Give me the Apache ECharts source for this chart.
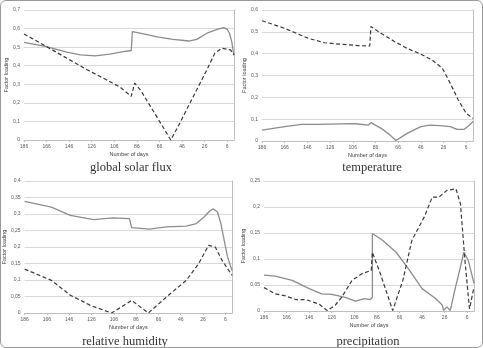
<!DOCTYPE html>
<html>
<head>
<meta charset="utf-8">
<script src="https://cdn.jsdelivr.net/npm/echarts@6/dist/echarts.min.js"></script>
<style>
  html, body { margin: 0; padding: 0; background: #fff; }
  #main { width: 483px; height: 348px; }
  #frame { position: absolute; left: 0; top: 0; width: 481px; height: 346px;
           border: 1px solid #9a9a9a; border-radius: 6px; pointer-events: none; }
</style>
</head>
<body>
<div id="main"></div>
<div id="frame"></div>
<script>
// day ticks shown on every x axis (days before, counting down)
const dayTicks = [186, 166, 146, 126, 106, 86, 66, 46, 26, 6]
const captions = ["global solar flux", "temperature", "relative humidity", "precipitation"]

// [day, factor loading]
const solarSolid = [[186,0.526],[166,0.503],[148,0.473],[136,0.458],[123,0.453],[110,0.462],[98,0.476],[91,0.482],[90,0.584],[80,0.571],[68,0.555],[54,0.542],[40,0.533],[33,0.542],[24,0.575],[15,0.596],[9,0.605],[6,0.596],[4,0.575],[2,0.53],[1,0.49],[0,0.455]]
const solarDashed = [[186,0.571],[166,0.503],[148,0.44],[130,0.378],[113,0.324],[101,0.285],[91,0.235],[88,0.306],[83,0.27],[74,0.181],[65,0.091],[56,0],[48,0.091],[36,0.235],[24,0.378],[17,0.467],[11,0.494],[3,0.485],[0,0.458]]

const tempSolid = [[186,0.05],[166,0.066],[151,0.076],[137,0.076],[116,0.078],[104,0.079],[92,0.073],[90,0.084],[81,0.058],[73,0.027],[68,0.002],[58,0.035],[46,0.066],[38,0.073],[29,0.07],[20,0.066],[14,0.053],[8,0.053],[4,0.069],[0,0.089]]
const tempDashed = [[186,0.551],[166,0.516],[145,0.47],[131,0.45],[116,0.443],[101,0.437],[91,0.435],[90,0.524],[81,0.493],[69,0.455],[58,0.424],[46,0.398],[36,0.371],[27,0.333],[20,0.264],[13,0.188],[6,0.127],[0,0.104]]

const humSolid = [[186,0.338],[162,0.321],[145,0.296],[124,0.283],[107,0.288],[92,0.286],[90,0.259],[74,0.254],[59,0.261],[41,0.263],[32,0.271],[25,0.291],[20,0.309],[17,0.316],[13,0.306],[10,0.271],[7,0.22],[4,0.17],[0,0.129]]
const humDashed = [[186,0.133],[162,0.099],[145,0.054],[127,0.023],[108,0],[90,0.038],[75,0],[59,0.048],[41,0.099],[30,0.149],[21,0.205],[15,0.2],[9,0.16],[0,0.114]]

const precSolid = [[186,0.069],[176,0.067],[161,0.059],[146,0.043],[135,0.033],[126,0.032],[114,0.026],[105,0.019],[97,0.024],[92,0.022],[90,0.026],[90,0.149],[81,0.136],[69,0.113],[58,0.081],[46,0.043],[34,0.024],[28,0.011],[27,0.001],[24,0.008],[21,0.001],[17,0.04],[12,0.085],[9,0.113],[5,0.097],[0,0.053]]
const precDashed = [[186,0.045],[176,0.033],[167,0.029],[158,0.022],[149,0.022],[137,0.013],[130,0.001],[123,0.011],[117,0.027],[108,0.059],[99,0.072],[91,0.078],[90,0.113],[83,0.072],[72,0.001],[63,0.059],[55,0.136],[44,0.181],[37,0.219],[31,0.219],[24,0.232],[16,0.235],[12,0.206],[8,0.097],[4,0.004],[0,0.046]]

const yMax = [0.7, 0.6, 0.4, 0.25]
const yStep = [0.1, 0.1, 0.05, 0.05]

const grids = [
  { left: 24, top: 10, width: 210, height: 130 },
  { left: 262, top: 10, width: 211, height: 131 },
  { left: 23, top: 181, width: 209, height: 132 },
  { left: 264, top: 181, width: 210, height: 130 },
]
const captionPos = [[131, 161], [372, 161], [125, 335], [368, 335]]
const panels = [[solarSolid, solarDashed], [tempSolid, tempDashed], [humSolid, humDashed], [precSolid, precDashed]]

const tickFont = { fontSize: 5, color: "#595959", fontFamily: "Arial, Liberation Sans" }

let myChart = echarts.init(document.getElementById("main"))

let xAxis = [], yAxis = [], series = [], title = []
grids.forEach((g, i) => {
  xAxis.push({
    gridIndex: i,
    type: "value",
    inverse: true,
    min: 0,
    max: 186,
    name: "Number of days",
    nameLocation: "middle",
    nameGap: 11,
    nameTextStyle: { fontSize: 5.5, color: "#404040", fontFamily: "Arial, Liberation Sans" },
    axisLine: { show: true, lineStyle: { color: "#bfbfbf", width: 1 } },
    axisTick: { show: true, length: 2, customValues: dayTicks, lineStyle: { color: "#bfbfbf" } },
    axisLabel: Object.assign({ customValues: dayTicks, margin: 4 }, tickFont),
    splitLine: { show: false },
  })
  yAxis.push({
    gridIndex: i,
    type: "value",
    min: 0,
    max: yMax[i],
    interval: yStep[i],
    name: "Factor loading",
    nameLocation: "middle",
    nameGap: 12,
    nameTextStyle: { fontSize: 5.5, color: "#404040", fontFamily: "Arial, Liberation Sans" },
    axisLine: { show: true, lineStyle: { color: "#bfbfbf", width: 1 } },
    axisTick: { show: false },
    axisLabel: Object.assign({
      margin: 4,
      formatter: (v) => (Math.round(v * 100) / 100).toString().replace(".", ","),
    }, tickFont),
    splitLine: { show: true, lineStyle: { color: "#d9d9d9", width: 1 } },
  })
  series.push({
    type: "line",
    xAxisIndex: i,
    yAxisIndex: i,
    data: panels[i][0],
    showSymbol: false,
    lineStyle: { color: "#8c8c8c", width: 1.3 },
    silent: true,
  })
  series.push({
    type: "line",
    xAxisIndex: i,
    yAxisIndex: i,
    data: panels[i][1],
    showSymbol: false,
    lineStyle: { color: "#3a3a3a", width: 1.2, type: [4, 2.5] },
    silent: true,
  })
  title.push({
    text: captions[i],
    left: captionPos[i][0],
    top: captionPos[i][1],
    textAlign: "center",
    padding: 0,
    textStyle: { fontSize: 12.5, fontWeight: "normal", color: "#333", fontFamily: "Liberation Serif, DejaVu Serif, serif" },
  })
})

myChart.setOption({
  animation: false,
  title: title,
  grid: grids,
  xAxis: xAxis,
  yAxis: yAxis,
  series: series,
})
</script>
</body>
</html>
